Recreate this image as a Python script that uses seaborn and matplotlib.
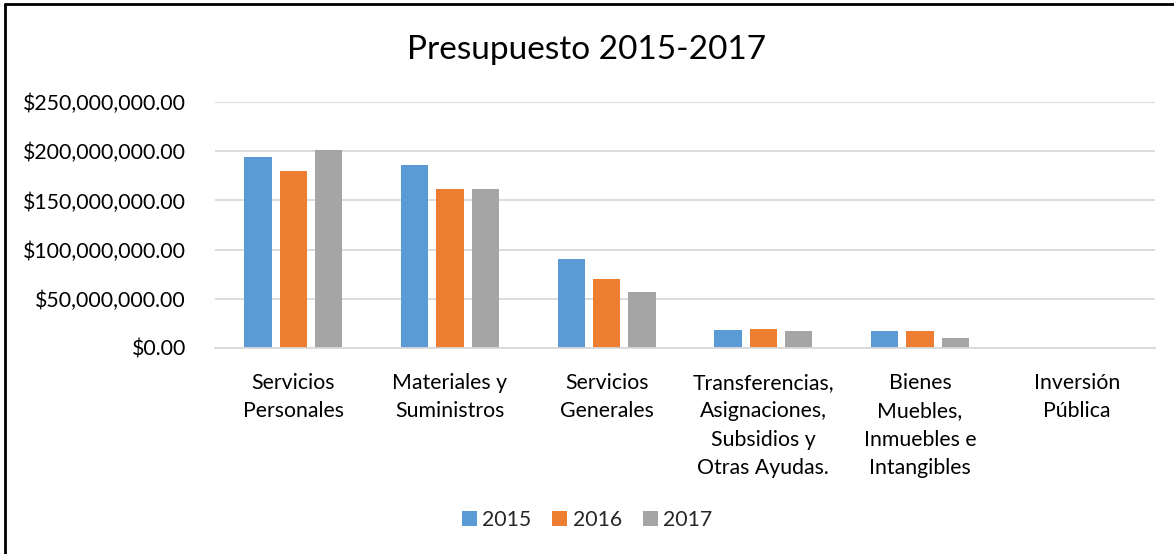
import matplotlib
matplotlib.use("Agg")
import matplotlib.pyplot as plt
import matplotlib.ticker as mticker
from matplotlib.patches import Patch
from matplotlib.lines import Line2D
import seaborn as sns
import pandas as pd

categories = [
    "Servicios\nPersonales",
    "Materiales y\nSuministros",
    "Servicios\nGenerales",
    "Transferencias,\nAsignaciones,\nSubsidios y\nOtras Ayudas.",
    "Bienes\nMuebles,\nInmuebles e\nIntangibles",
    "Inversión\nPública",
]
years = ["2015", "2016", "2017"]
v2015 = [193.7e6, 185.9e6, 90.3e6, 18.6e6, 17.5e6, 0.4e6]
v2016 = [179.8e6, 161.3e6, 70.0e6, 19.6e6, 17.0e6, 0.0]
v2017 = [201.1e6, 161.6e6, 57.4e6, 16.8e6, 9.8e6, 0.0]
colors = ["#5b9bd5", "#ed7d31", "#a5a5a5"]

rows = []
for y, vals in zip(years, [v2015, v2016, v2017]):
    for c, v in zip(categories, vals):
        rows.append({"cat": c, "year": y, "value": v})
df = pd.DataFrame(rows)

sns.set_theme(style="white")
plt.rcParams["font.family"] = ["Lato", "DejaVu Sans"]

fig = plt.figure(figsize=(11.74, 5.54), dpi=100)
ax = fig.add_axes([215 / 1174, 1 - 348 / 554, (1155 - 215) / 1174, (348 - 102) / 554])

sns.barplot(data=df, x="cat", y="value", hue="year", palette=colors,
            order=categories, hue_order=years, width=0.675, gap=0.22,
            ax=ax, legend=False, saturation=1, edgecolor="none")

ax.set_ylim(0, 250e6)
ax.set_xlim(-0.5, len(categories) - 0.5)
ax.yaxis.set_major_locator(mticker.MultipleLocator(50e6))
ax.yaxis.set_major_formatter(mticker.FuncFormatter(lambda v, p: f"${v:,.2f}"))
ax.grid(axis="y", color="#d9d9d9", linewidth=1.3)
ax.set_axisbelow(True)
for s in ["top", "right", "left"]:
    ax.spines[s].set_visible(False)
ax.spines["bottom"].set_color("#d9d9d9")
ax.spines["bottom"].set_linewidth(1.3)
ax.set_xlabel("")
ax.set_ylabel("")
ax.tick_params(axis="y", length=0, pad=21, labelsize=15.3, labelcolor="#000000")
ax.tick_params(axis="x", length=0, pad=18, labelsize=15.3, labelcolor="#000000")
for lbl in ax.get_xticklabels():
    lbl.set_linespacing(1.52)
    lbl.set_va("top")

fig.text(0.5, 1 - 50 / 554, "Presupuesto 2015-2017", ha="center", va="center",
         fontsize=24, color="#000000")

handles = [Patch(facecolor=c, edgecolor="none") for c in colors]
fig.legend(handles, years, loc="center", bbox_to_anchor=(0.5, 1 - 520 / 554),
           ncol=3, frameon=False, fontsize=15.3, handlelength=0.7, handleheight=0.7,
           handletextpad=0.25, columnspacing=1.0)

# chart border (left/top visible)
fig.add_artist(Line2D([5 / 1174, 5 / 1174], [0, 1 - 4 / 554], transform=fig.transFigure,
                      color="#000000", linewidth=2))
fig.add_artist(Line2D([5 / 1174, 1], [1 - 4 / 554, 1 - 4 / 554], transform=fig.transFigure,
                      color="#000000", linewidth=2))

fig.savefig("out.png", dpi=100, facecolor="white")
